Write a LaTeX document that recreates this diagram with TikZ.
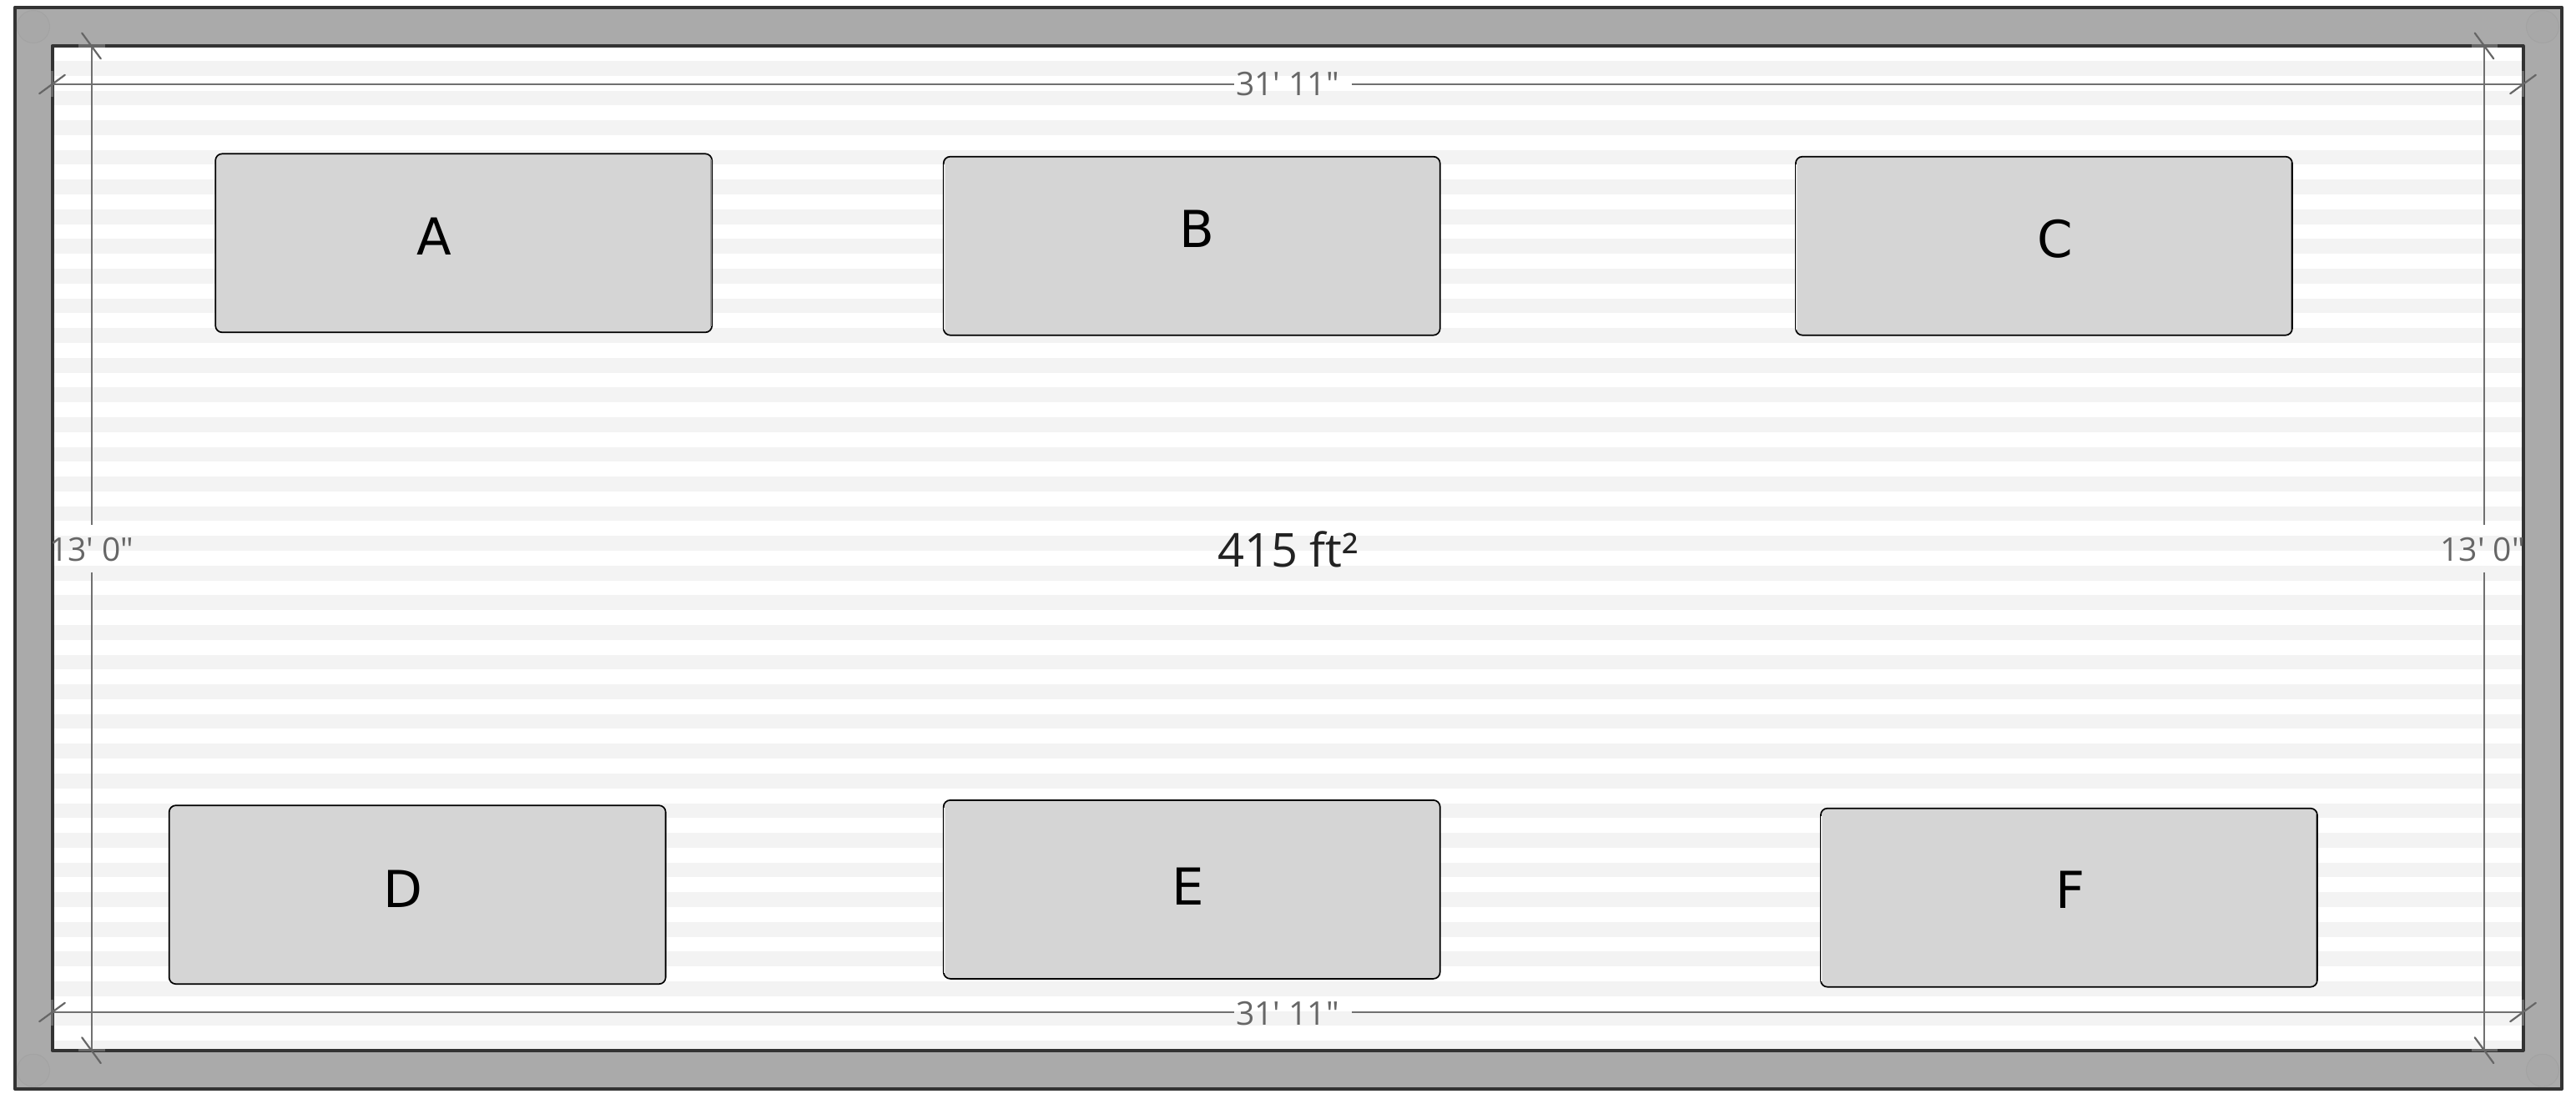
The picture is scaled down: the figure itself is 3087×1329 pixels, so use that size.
\documentclass[tikz,border=0pt]{standalone}
\usepackage{fontspec}
\newfontfamily\plainfont{Open Sans}
\newfontfamily\letterfont{DejaVu Sans}
\definecolor{wallfill}{HTML}{AAAAAA}
\definecolor{wallline}{HTML}{333333}
\definecolor{stripecol}{HTML}{F3F3F3}
\definecolor{dimcol}{HTML}{666666}
\definecolor{dimline}{HTML}{707070}
\definecolor{boxfill}{HTML}{D5D5D5}
\definecolor{postfill}{HTML}{A8A8A8}
\definecolor{postline}{HTML}{A3A3A3}
\definecolor{areacol}{HTML}{222222}
\definecolor{shadecol}{HTML}{999999}
\definecolor{lightcol}{HTML}{E6E6E6}
\tikzset{
  x=1pt,y=-1pt,
  wall/.style={draw=wallline,line width=4pt,line join=round},
  post/.style={circle,minimum size=39pt,inner sep=0pt,fill=postfill,draw=postline,line width=1pt},
  equip/.style={rectangle,rounded corners=8pt,draw=black,line width=1.7pt,fill=boxfill,minimum width=595pt,minimum height=214pt,inner sep=0pt},
  shadeR/.style={draw=shadecol,line width=1.6pt},
  shadeL/.style={draw=lightcol,line width=1.4pt},
  letter/.style={anchor=base,inner sep=0pt,font=\letterfont\fontsize{61}{61}\selectfont,text=black},
  dimtext/.style={anchor=base,inner sep=0pt,font=\plainfont\fontsize{39}{39}\selectfont,text=dimcol},
  dimrun/.style={draw=dimline,line width=2pt},
  tick/.style={draw=dimcol,line width=2.2pt,line cap=round},
  band/.style={draw=dimcol,line width=3.2pt}
}
\begin{document}
\begin{tikzpicture}
\useasboundingbox (0,0) rectangle (3087,1329);
\fill[white] (0,0) rectangle (3087,1329);
% walls
\fill[wallfill] (18,8.7) rectangle (3070,1305);
\foreach \n/\px/\py in {pa/40/32,pb/3047/32,pc/40/1282.7,pd/3047/1282.7}
  \node[post] (\n) at (\px,\py) {};
\path[wall] (18,8.7) rectangle (3070,1305);
% floor
\fill[white] (62.5,55) rectangle (3023.5,1258.7);
\begin{scope}
\clip (62.5,55) rectangle (3023.5,1258.7);
\foreach \k in {0,...,33}
  \fill[stripecol] (62,{73+35.58*\k}) rectangle (3024,{90.7+35.58*\k});
\end{scope}
\path[wall] (62.5,55) rectangle (3023.5,1258.7);
% equipment boxes
\node[equip] (boxA) at (555.7,291.3) {};
\node[equip] (boxB) at (1428.2,294.7) {};
\node[equip] (boxC) at (2449.4,294.7) {};
\node[equip] (boxD) at (500.2,1072.2) {};
\node[equip] (boxE) at (1428.2,1065.9) {};
\node[equip] (boxF) at (2479.4,1075.7) {};
\foreach \b in {boxA,boxC,boxD,boxF}
  \draw[shadeR] ([xshift=-2.2pt,yshift=-8pt]\b.north east) -- ([xshift=-2.2pt,yshift=8pt]\b.south east);
\foreach \b in {boxB,boxC,boxE,boxF}
  \draw[shadeL] ([xshift=2pt,yshift=-10pt]\b.north west) -- ([xshift=2pt,yshift=8pt]\b.south west);
\node[letter] (lblA) at (520.4,305.5) {A};
\node[letter] (lblB) at (1434.7,296.5) {B};
\node[letter] (lblC) at (2463,308.5) {C};
\node[letter] (lblD) at (483,1087.5) {D};
\node[letter] (lblE) at (1424,1084.5) {E};
\node[letter] (lblF) at (2480.6,1088) {F};
% dimension labels
\node[dimtext] (dimT) at (1543,115) {31' 11"};
\node[dimtext] (dimB) at (1543,1228) {31' 11"};
\node[dimtext] (dimL) at (110,672) {13' 0"};
\node[dimtext] (dimR) at (2975,672) {13' 0"};
\node[anchor=base,inner sep=0pt,font=\plainfont\fontsize{56}{56}\selectfont,text=areacol] (area) at (1543.5,679) {415 ft²};
% dimension end points
\coordinate (tl) at (62.5,101); \coordinate (tr) at (3023.5,101);
\coordinate (tg1) at (1479,101); \coordinate (tg2) at (1620,101);
\coordinate (bl) at (62.5,1213); \coordinate (br) at (3023.5,1213);
\coordinate (bg1) at (1479,1213); \coordinate (bg2) at (1620,1213);
\coordinate (lt) at (109.5,55); \coordinate (lb) at (109.5,1258.7);
\coordinate (lg1) at (109.5,629); \coordinate (lg2) at (109.5,685.7);
\coordinate (rt) at (2977,55); \coordinate (rb) at (2977,1258.7);
\coordinate (rg1) at (2977,629); \coordinate (rg2) at (2977,685.7);
\draw[dimrun] (tl) -- (tg1) (tg2) -- (tr);
\draw[dimrun] (bl) -- (bg1) (bg2) -- (br);
\draw[dimrun] (lt) -- (lg1) (lg2) -- (lb);
\draw[dimrun] (rt) -- (rg1) (rg2) -- (rb);
% end bands and ticks
\foreach \c in {lt,rt,lb,rb}{
  \draw[band] ([xshift=-15.5pt]\c) -- ([xshift=16pt]\c);
  \draw[tick] ([xshift=-11.3pt,yshift=15.4pt]\c) -- ([xshift=11.3pt,yshift=-15.4pt]\c);
}
\foreach \c in {tl,tr,bl,br}{
  \draw[band] ([yshift=15.5pt]\c) -- ([yshift=-15.5pt]\c);
  \draw[tick] ([xshift=-15.3pt,yshift=-11.2pt]\c) -- ([xshift=15.3pt,yshift=11.2pt]\c);
}
\end{tikzpicture}
\end{document}
